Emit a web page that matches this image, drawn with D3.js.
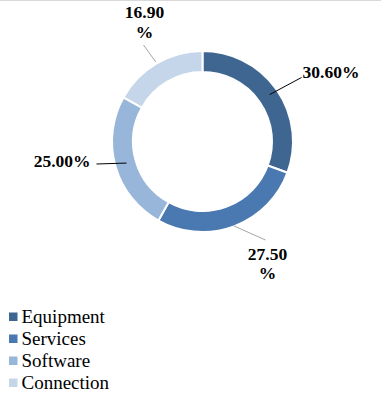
<!DOCTYPE html>
<html>
<head>
<meta charset="utf-8">
<script src="https://cdn.jsdelivr.net/npm/d3@7"></script>
<style>
  html, body { margin: 0; padding: 0; background: #fff; }
  svg { display: block; }
  text { font-family: "Liberation Serif", "Times New Roman", Times, serif; }
</style>
</head>
<body>
<script>
// ---- data ----
const categories = ["Equipment", "Services", "Software", "Connection"];
const values = [30.6, 27.5, 25.0, 16.9];
const labelLines = [["30.60%"], ["27.50", "%"], ["25.00%"], ["16.90", "%"]];
const colors = ["#3f6690", "#4a78b0", "#97b6da", "#c5d6ea"];

// ---- layout ----
const W = 381, H = 398;
const cx = 202.5, cy = 141.5, rOuter = 90.5, rInner = 69.5;

const svg = d3.select("body").append("svg").attr("width", W).attr("height", H);

// top border line
svg.append("line").attr("x1", 0).attr("x2", W).attr("y1", 0.5).attr("y2", 0.5)
  .attr("stroke", "#d9d9d9").attr("stroke-width", 1);

const pie = d3.pie().sort(null).value(d => d.v);
const data = categories.map((c, i) => ({ c, v: values[i], i }));
const arcs = pie(data);
const arc = d3.arc().innerRadius(rInner).outerRadius(rOuter);

const g = svg.append("g").attr("transform", `translate(${cx},${cy})`);
g.selectAll("path").data(arcs).enter().append("path")
  .attr("d", arc)
  .attr("fill", (d, i) => colors[i])
  .attr("stroke", "#fff")
  .attr("stroke-width", 2);

// leader lines + labels (label placement layout)
const leaderLayout = [
  { r0: 82, end: [99, -64], color: "#000", anchor: "start", tx: 100, ty: -64 },
  { r0: 90, end: [63, 98.5], color: "#a6a6a6", anchor: "middle", tx: 65, ty: 118 },
  { r0: 79, end: [-106, 22.5], color: "#000", anchor: "end", tx: -112, ty: 25.5 },
  { r0: 92, end: [-59, -96.5], color: "#a6a6a6", anchor: "middle", tx: -58, ty: -123.5 }
];

arcs.forEach((a, i) => {
  const L = leaderLayout[i];
  const mid = (a.startAngle + a.endAngle) / 2;
  const p0 = [Math.sin(mid) * L.r0, -Math.cos(mid) * L.r0];
  g.append("line")
    .attr("x1", p0[0]).attr("y1", p0[1])
    .attr("x2", L.end[0]).attr("y2", L.end[1])
    .attr("stroke", L.color).attr("stroke-width", 1);
  const t = g.append("text")
    .attr("x", L.tx).attr("y", L.ty)
    .attr("text-anchor", L.anchor)
    .style("font-weight", "bold")
    .style("font-size", "17.5px")
    .attr("fill", "#000");
  labelLines[i].forEach((s, k) => {
    t.append("tspan").attr("x", L.tx).attr("dy", k === 0 ? 0 : 19.5).text(s);
  });
});

// legend
const leg = svg.append("g").attr("transform", "translate(9,312.5)");
const items = leg.selectAll("g").data(categories).enter().append("g")
  .attr("transform", (d, i) => `translate(0,${i * 22})`);
items.append("rect").attr("x", 0).attr("y", 0).attr("width", 8.5).attr("height", 8.5)
  .attr("fill", (d, i) => colors[i]);
items.append("text").attr("x", 12.5).attr("y", 10.5)
  .style("font-size", "19px")
  .attr("fill", "#000")
  .text(d => d);
</script>
</body>
</html>
